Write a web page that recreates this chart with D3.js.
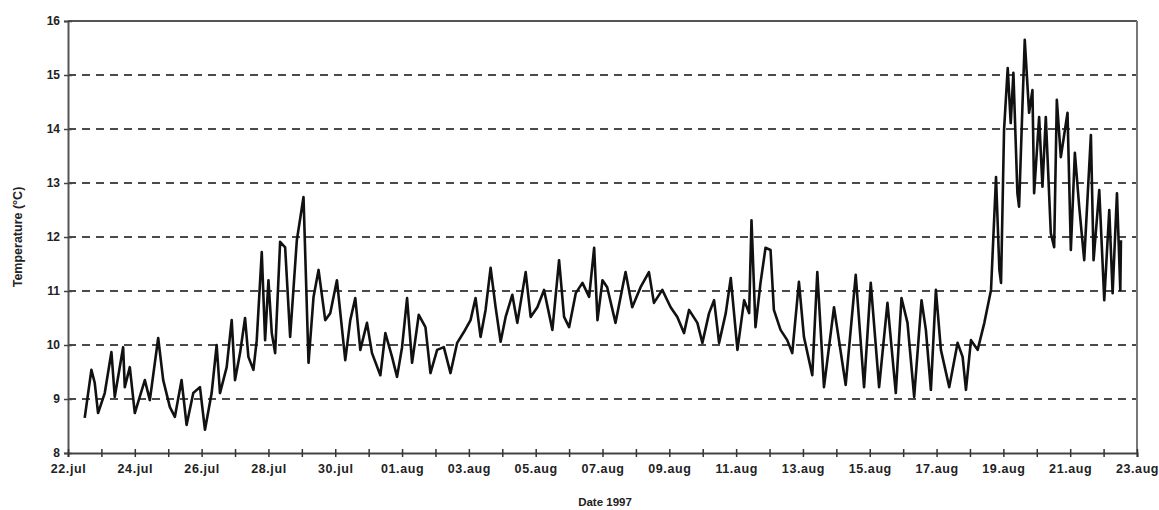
<!DOCTYPE html>
<html><head><meta charset="utf-8">
<script src="https://cdn.jsdelivr.net/npm/d3@7"></script>
<style>
html,body{margin:0;padding:0;background:#fff;}
svg{display:block;font-family:"Liberation Sans",Arial,sans-serif;}
</style></head>
<body>
<svg id="chart" width="1159" height="510"></svg>
<script>
// Days since 22 Jul 1997 00:00
const days = [
0.50,0.70,0.80,0.90,1.10,1.30,1.40,1.65,1.70,1.85,2.00,2.30,2.45,2.70,2.85,3.05,3.20,3.40,3.55,3.75,3.95,4.10,4.30,4.45,4.55,4.75,4.90,5.00,5.15,5.30,5.40,5.55,5.65,5.80,5.90,6.00,6.10,6.20,6.35,6.50,6.65,6.85,7.05,7.20,7.35,7.50,7.70,7.85,
8.05,8.30,8.45,8.60,8.75,8.95,9.10,9.35,9.50,9.70,9.85,10.00,10.15,10.30,10.50,10.70,10.85,11.05,11.25,11.45,11.65,11.85,12.05,12.20,12.35,12.50,12.65,12.80,12.95,13.10,13.30,13.45,13.70,13.85,14.05,14.25,14.50,14.70,14.85,15.00,15.20,15.40,15.60,15.75,15.85,
16.00,16.14,16.39,16.69,16.89,17.14,17.39,17.54,17.79,18.04,18.24,18.44,18.59,18.84,18.99,19.19,19.34,19.49,19.69,19.84,20.04,20.24,20.39,20.46,20.58,20.73,20.88,21.03,21.13,21.33,21.53,21.68,21.88,22.03,22.28,22.43,22.63,22.93,23.28,23.58,23.83,24.03,24.28,
24.53,24.78,24.95,25.13,25.33,25.55,25.68,25.83,25.98,26.13,26.38,26.63,26.78,26.88,27.03,27.23,27.43,27.63,27.78,27.88,27.93,28.02,28.13,28.22,28.30,28.42,28.47,28.57,28.64,28.77,28.87,28.92,29.07,29.17,29.27,29.42,29.52,29.60,29.72,29.92,30.02,30.14,30.27,30.42,30.62,30.70,30.87,31.02,31.17,31.27,31.40,31.50,31.52
];
const temps = [
8.65,9.54,9.30,8.74,9.11,9.87,9.04,9.96,9.22,9.59,8.74,9.35,8.98,10.13,9.35,8.85,8.67,9.35,8.52,9.11,9.22,8.43,9.11,10.00,9.11,9.59,10.46,9.35,9.85,10.50,9.78,9.54,10.09,11.72,10.09,11.20,10.22,9.85,11.91,11.81,10.15,11.94,12.74,9.67,10.89,11.39,10.46,10.59,
11.20,9.72,10.46,10.87,9.91,10.41,9.85,9.44,10.22,9.78,9.41,9.96,10.87,9.67,10.56,10.33,9.48,9.91,9.96,9.48,10.04,10.24,10.46,10.87,10.15,10.65,11.43,10.70,10.06,10.52,10.93,10.41,11.35,10.52,10.70,11.02,10.28,11.57,10.52,10.33,10.96,11.15,10.89,11.80,10.46,
11.20,11.07,10.41,11.35,10.70,11.07,11.35,10.78,11.02,10.70,10.52,10.22,10.65,10.41,10.04,10.59,10.83,10.04,10.59,11.24,9.91,10.83,10.59,12.31,10.33,11.15,11.80,11.76,10.65,10.28,10.09,9.85,11.17,10.15,9.44,11.35,9.22,10.70,9.26,11.30,9.22,11.15,9.22,
10.78,9.11,10.87,10.41,9.04,10.83,10.28,9.17,11.02,9.91,9.22,10.04,9.78,9.17,10.09,9.91,10.41,11.02,13.11,11.39,11.15,13.98,15.13,14.11,15.04,12.81,12.56,14.41,15.65,14.30,14.72,12.81,14.22,12.93,14.22,12.07,11.81,14.54,13.48,14.30,11.76,13.56,12.56,11.57,13.89,11.57,12.87,10.83,12.50,10.96,12.81,11.02,11.94
];
const yTicks = [8,9,10,11,12,13,14,15,16];
const xTickLabels = ["22.jul","24.jul","26.jul","28.jul","30.jul","01.aug","03.aug","05.aug","07.aug","09.aug","11.aug","13.aug","15.aug","17.aug","19.aug","21.aug","23.aug"];
const yTitle = "Temperature (°C)";
const xTitle = "Date 1997";

const start = new Date(1997,6,22);
const end = new Date(1997,7,23);
const toDate = d => new Date(start.getTime() + d*86400000);
const data = days.map((d,i)=>({t:toDate(d), v:temps[i]}));

const L=68, R=1137, T=21, B=453;
const svg = d3.select("#chart");
const x = d3.scaleTime().domain([start,end]).range([L,R]);
const y = d3.scaleLinear().domain([8,16]).range([B,T]);

// gridlines
svg.append("g").selectAll("line").data(yTicks.filter(v=>v>8&&v<16)).join("line")
  .attr("x1",L).attr("x2",R).attr("y1",d=>y(d)).attr("y2",d=>y(d))
  .attr("stroke","#4a4a4a").attr("stroke-width",2).attr("stroke-dasharray","8,6");

// frame top/right
svg.append("line").attr("x1",L).attr("x2",R).attr("y1",T).attr("y2",T).attr("stroke","#555").attr("stroke-width",2);
svg.append("line").attr("x1",R).attr("x2",R).attr("y1",T).attr("y2",B).attr("stroke","#777").attr("stroke-width",2);

// y axis
const yAxis = d3.axisLeft(y).tickValues(yTicks).tickFormat(d3.format("d")).tickSize(4);
const gy = svg.append("g").attr("transform",`translate(${L},0)`).call(yAxis);
gy.select(".domain").attr("stroke","#555").attr("stroke-width",2);
gy.selectAll(".tick line").attr("stroke","#444").attr("stroke-width",1.5).attr("x2",4).attr("x1",-4);
gy.selectAll(".tick text").attr("x",-8).attr("font-size",12).attr("fill","#222").attr("font-weight","bold");

// x axis: tick every day, label every second day
const dayTicks = d3.timeDay.range(start, d3.timeDay.offset(end,1));
const labelMap = new Map(dayTicks.filter((d,i)=>i%2===0).map((d,i)=>[+d, xTickLabels[i]]));
const xAxis = d3.axisBottom(x).tickValues(dayTicks).tickFormat(d=>labelMap.get(+d)||"").tickSize(4);
const gx = svg.append("g").attr("transform",`translate(0,${B})`).call(xAxis);
gx.select(".domain").attr("stroke","#444").attr("stroke-width",2);
gx.selectAll(".tick line").attr("stroke","#333").attr("stroke-width",1.5).attr("y1",-4).attr("y2",4);
gx.selectAll(".tick text").attr("y",11).attr("font-size",12.5).attr("letter-spacing","0.6px")
  .attr("fill","#222").attr("font-weight","bold");

// data line
const line = d3.line().x(d=>x(d.t)).y(d=>y(d.v));
svg.append("path").datum(data).attr("d",line).attr("fill","none")
  .attr("stroke","#111").attr("stroke-width",2.6).attr("stroke-linejoin","round");

// titles
svg.append("text").attr("x",605).attr("y",506).attr("text-anchor","middle")
  .attr("font-size",11.5).attr("font-weight","bold").attr("fill","#222").text(xTitle);
svg.append("text").attr("transform","translate(22,237) rotate(-90)").attr("text-anchor","middle")
  .attr("font-size",12.5).attr("font-weight","bold").attr("fill","#222").text(yTitle);
</script>
</body></html>
